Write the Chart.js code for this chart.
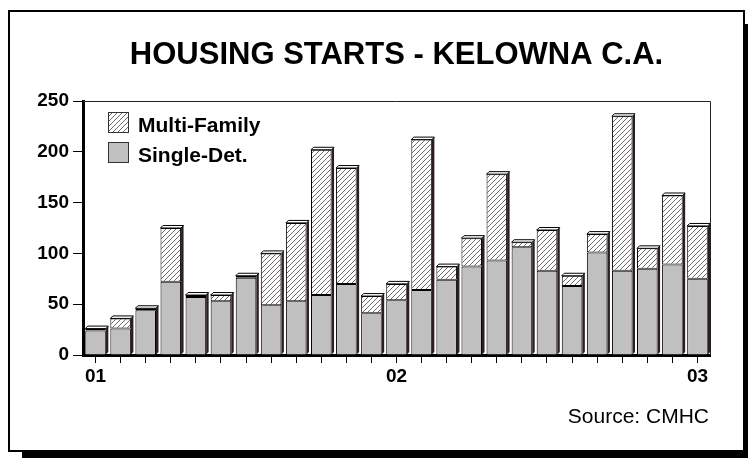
<!DOCTYPE html>
<html>
<head>
<meta charset="utf-8">
<script src="https://cdn.jsdelivr.net/npm/chart.js@4.4.1/dist/chart.umd.min.js"></script>
<style>
html,body{margin:0;padding:0;background:#fff;}
#wrap{position:absolute;left:0;top:0;width:748px;height:458px;}
</style>
</head>
<body>
<div id="wrap"><canvas id="c" width="748" height="458"></canvas></div>
<script>
// ---- data ----
const categories = ['Jan 01','Feb 01','Mar 01','Apr 01','May 01','Jun 01','Jul 01','Aug 01','Sep 01','Oct 01','Nov 01','Dec 01',
                    'Jan 02','Feb 02','Mar 02','Apr 02','May 02','Jun 02','Jul 02','Aug 02','Sep 02','Oct 02','Nov 02','Dec 02',
                    'Jan 03'];
const xTickLabels = ['01','','','','','','','','','','','',
                     '02','','','','','','','','','','','',
                     '03'];
const singleDet = [24,26,44,72,57,53,76,49,53,59,70,41,54,64,74,87,93,106,83,68,101,83,85,89,75];
const multiFamily = [2,10,2,53,2,6,2,51,77,143,114,17,16,148,13,28,85,5,40,10,18,152,20,68,52];
const yTicks = [0,50,100,150,200,250];
const titleText = 'HOUSING STARTS - KELOWNA C.A.';
const sourceText = 'Source: CMHC';

// ---- hatch pattern ----
function hatch(){
  const s = 5;
  const p = document.createElement('canvas');
  p.width = s; p.height = s;
  const g = p.getContext('2d');
  g.fillStyle = '#ffffff'; g.fillRect(0,0,s,s);
  g.strokeStyle = '#6a6a6a'; g.lineWidth = 1;
  g.beginPath();
  g.moveTo(0, s); g.lineTo(s, 0);
  g.moveTo(-1, 1); g.lineTo(1, -1);
  g.moveTo(s-1, s+1); g.lineTo(s+1, s-1);
  g.stroke();
  return g.createPattern(p, 'repeat');
}
const ctx0 = document.getElementById('c').getContext('2d');
const hatchFill = hatch();
const grayFill = '#c0c0c0';
const FONT = '"Liberation Sans", Arial, sans-serif';

const framePlugin = {
  id: 'frame',
  beforeDraw(chart){
    const c = chart.ctx;
    c.save();
    c.fillStyle = '#fff'; c.fillRect(0,0,748,458);
    c.fillStyle = '#000'; c.fillRect(22,24,726,434);
    c.fillStyle = '#fff'; c.fillRect(8,10,737,442);
    c.strokeStyle = '#000'; c.lineWidth = 2;
    c.strokeRect(9,11,735,440);
    c.restore();
  },
  afterDraw(chart){
    const c = chart.ctx, a = chart.chartArea;
    c.save();
    // title
    c.fillStyle = '#000';
    c.font = 'bold 31px ' + FONT;
    c.textAlign = 'center'; c.textBaseline = 'alphabetic';
    c.fillText(titleText, (a.left + a.right)/2, 64);
    // source
    c.font = '21px ' + FONT;
    c.textAlign = 'right';
    c.fillText(sourceText, 709, 423);
    // plot frame top/right
    c.strokeStyle = '#222'; c.lineWidth = 1;
    c.beginPath();
    c.moveTo(a.left, a.top + 0.5); c.lineTo(a.right + 0.5, a.top + 0.5); c.lineTo(a.right + 0.5, a.bottom);
    c.stroke();
    // legend
    const items = [
      {label: chart.data.datasets[1].label, fill: hatchFill, y: 112},
      {label: chart.data.datasets[0].label, fill: grayFill, y: 142}
    ];
    c.font = 'bold 21px ' + FONT;
    c.textAlign = 'left'; c.textBaseline = 'alphabetic';
    items.forEach(it => {
      c.fillStyle = it.fill;
      c.fillRect(108, it.y, 20, 20);
      c.strokeStyle = '#333'; c.lineWidth = 1;
      c.strokeRect(108.5, it.y + 0.5, 20, 20);
      c.fillStyle = '#000';
      c.fillText(it.label, 138, it.y + 20);
    });
    c.restore();
  },
  afterDatasetsDraw(chart){
    const c = chart.ctx;
    const m0 = chart.getDatasetMeta(0), m1 = chart.getDatasetMeta(1);
    c.save();
    m1.data.forEach((bar, i) => {
      const base = m0.data[i].base;
      const half = bar.width / 2;
      const l = bar.x - half, r = bar.x + half, t = bar.y;
      const d = 2.5;
      // side
      c.fillStyle = '#2a1e1e';
      c.beginPath();
      c.moveTo(r, t); c.lineTo(r + d, t - d); c.lineTo(r + d, base - d); c.lineTo(r, base);
      c.closePath(); c.fill();
      // cap
      c.fillStyle = '#ffffff';
      c.strokeStyle = '#000'; c.lineWidth = 1;
      c.beginPath();
      c.moveTo(l, t); c.lineTo(l + d, t - d); c.lineTo(r + d, t - d); c.lineTo(r, t);
      c.closePath(); c.fill(); c.stroke();
    });
    c.restore();
  }
};

new Chart(document.getElementById('c'), {
  type: 'bar',
  data: {
    labels: categories,
    datasets: [
      {label: 'Single-Det.', data: singleDet, backgroundColor: grayFill, borderColor: '#000',
       borderWidth: {top: 1, left: 1, right: 1, bottom: 0}, borderSkipped: false},
      {label: 'Multi-Family', data: multiFamily, backgroundColor: hatchFill, borderColor: '#000',
       borderWidth: {top: 1, left: 1, right: 1, bottom: 1}, borderSkipped: false}
    ]
  },
  options: {
    responsive: false,
    animation: false,
    devicePixelRatio: 1,
    layout: {padding: {left: 0, right: 38, top: 101, bottom: 0}},
    datasets: {bar: {categoryPercentage: 1.0, barPercentage: 0.82}},
    plugins: {legend: {display: false}, title: {display: false}, tooltip: {enabled: false}},
    scales: {
      x: {
        stacked: true,
        offset: true,
        afterFit(s){ s.height = 103; },
        grid: {display: true, offset: false, drawOnChartArea: false, drawTicks: true, tickLength: 8, color: '#000', lineWidth: 1},
        border: {display: true, color: '#000', width: 3},
        ticks: {autoSkip: false, maxRotation: 0, padding: 2, color: '#000',
                font: {family: FONT, size: 19, weight: 'bold'},
                callback: (v, i) => xTickLabels[i]}
      },
      y: {
        stacked: true,
        min: yTicks[0], max: yTicks[yTicks.length - 1],
        afterFit(s){ s.width = 83; },
        afterBuildTicks(s){ s.ticks = yTicks.map(v => ({value: v})); },
        grid: {display: true, drawOnChartArea: false, drawTicks: true, tickLength: 10, color: '#000', lineWidth: 1},
        border: {display: true, color: '#000', width: 3},
        ticks: {padding: 4, color: '#000', font: {family: FONT, size: 19, weight: 'bold'}}
      }
    }
  },
  plugins: [framePlugin]
});
</script>
</body>
</html>
